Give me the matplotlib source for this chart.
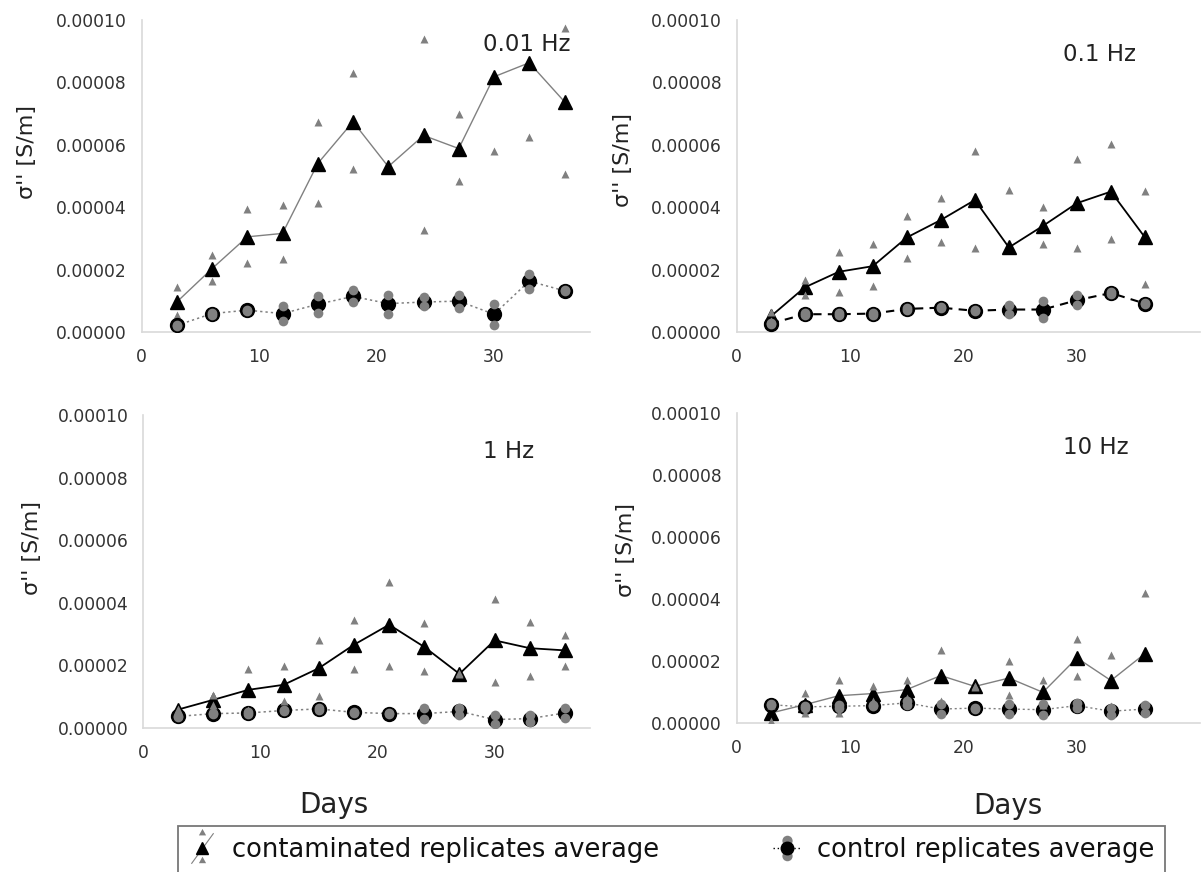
import numpy as np
import matplotlib
matplotlib.use("Agg")
import matplotlib.pyplot as plt
from matplotlib.lines import Line2D
from matplotlib.path import Path
from matplotlib.legend_handler import HandlerTuple

# sampling days
days = [3, 6, 9, 12, 15, 18, 21, 24, 27, 30, 33, 36]

# sigma'' in units of 1e-5 S/m -- contaminated columns (average + two replicates)
cont_avg_001 = [0.96, 2.03, 3.05, 3.16, 5.40, 6.74, 5.30, 6.30, 5.88, 8.18, 8.63, 7.38]
cont_r1_001 = [1.44, 2.46, 3.93, 4.06, 6.74, 8.31, 5.30, 9.38, 7.00, 10.55, 11.00, 9.73]
cont_r2_001 = [0.53, 1.63, 2.21, 2.35, 4.14, 5.21, 5.30, 3.26, 4.84, 5.81, 6.26, 5.06]

cont_avg_01 = [0.50, 1.43, 1.93, 2.11, 3.03, 3.59, 4.23, 2.71, 3.40, 4.13, 4.50, 3.03]
cont_r1_01 = [0.64, 1.66, 2.57, 2.81, 3.72, 4.29, 5.79, 4.56, 4.00, 5.55, 6.03, 4.52]
cont_r2_01 = [0.36, 1.20, 1.29, 1.47, 2.36, 2.87, 2.68, 0.86, 2.81, 2.68, 2.97, 1.55]

cont_avg_1 = [0.59, 0.90, 1.22, 1.38, 1.91, 2.66, 3.30, 2.59, 1.73, 2.80, 2.55, 2.48]
cont_r1_1 = [0.62, 1.06, 1.88, 1.99, 2.80, 3.46, 4.65, 3.37, 1.75, 4.13, 3.40, 2.98]
cont_r2_1 = [0.56, 0.74, 0.56, 0.85, 1.01, 1.88, 1.97, 1.81, 1.71, 1.46, 1.67, 1.99]

cont_avg_10 = [0.32, 0.59, 0.88, 0.95, 1.08, 1.53, 1.18, 1.45, 0.99, 2.10, 1.37, 2.24]
cont_r1_10 = [0.59, 0.97, 1.40, 1.20, 1.40, 2.34, 1.20, 1.99, 1.40, 2.71, 2.20, 4.19]
cont_r2_10 = [0.05, 0.32, 0.32, 0.70, 0.80, 0.70, 1.16, 0.91, 0.58, 1.51, 0.54, 0.38]

# control columns
ctrl_avg_001 = [0.21, 0.59, 0.70, 0.59, 0.89, 1.14, 0.91, 0.96, 0.99, 0.57, 1.63, 1.32]
ctrl_r1_001 = [0.23, 0.62, 0.72, 0.82, 1.14, 1.34, 1.20, 1.12, 1.18, 0.89, 1.87, 1.34]
ctrl_r2_001 = [0.19, 0.56, 0.68, 0.35, 0.62, 0.96, 0.59, 0.82, 0.78, 0.21, 1.39, 1.30]

ctrl_avg_01 = [0.27, 0.57, 0.57, 0.59, 0.74, 0.78, 0.68, 0.72, 0.72, 1.02, 1.25, 0.91]
ctrl_r1_01 = [0.29, 0.60, 0.60, 0.62, 0.76, 0.80, 0.70, 0.86, 0.99, 1.18, 1.27, 0.93]
ctrl_r2_01 = [0.25, 0.54, 0.54, 0.56, 0.72, 0.76, 0.66, 0.58, 0.45, 0.86, 1.23, 0.89]

ctrl_avg_1 = [0.37, 0.46, 0.48, 0.56, 0.61, 0.50, 0.46, 0.46, 0.53, 0.27, 0.30, 0.48]
ctrl_r1_1 = [0.39, 0.48, 0.50, 0.58, 0.63, 0.52, 0.48, 0.64, 0.64, 0.40, 0.42, 0.64]
ctrl_r2_1 = [0.35, 0.44, 0.46, 0.54, 0.59, 0.48, 0.44, 0.28, 0.42, 0.14, 0.18, 0.32]

ctrl_avg_10 = [0.59, 0.52, 0.54, 0.56, 0.65, 0.45, 0.48, 0.45, 0.43, 0.56, 0.38, 0.45]
ctrl_r1_10 = [0.61, 0.56, 0.58, 0.58, 0.72, 0.60, 0.50, 0.62, 0.60, 0.64, 0.50, 0.58]
ctrl_r2_10 = [0.57, 0.48, 0.50, 0.54, 0.58, 0.30, 0.46, 0.28, 0.26, 0.48, 0.26, 0.32]

freq_labels = ["0.01 Hz", "0.1 Hz", "1 Hz", "10 Hz"]
y_ticks = [0.0, 2e-5, 4e-5, 6e-5, 8e-5, 1e-4]
x_ticks = [0, 10, 20, 30]

scale = 1e-5
GREY = "#808080"

fig = plt.figure(figsize=(12.03, 8.72), dpi=100)
W, H = 1203.0, 872.0


def pix_axes(left, top, right, bottom):
    return fig.add_axes([left / W, 1 - bottom / H, (right - left) / W, (bottom - top) / H])


dotted = (0, (1.5, 2))
panels = [
    dict(ax=pix_axes(141.5, 20, 590, 332), xmax=38.17,
         cont=(cont_avg_001, cont_r1_001, cont_r2_001),
         ctrl=(ctrl_avg_001, ctrl_r1_001, ctrl_r2_001),
         cline=(GREY, 1.0, "-"), kline=(GREY, 1.1, dotted), rep_z=2.5,
         title=freq_labels[0], tpos=(0.86, 0.92), ylab=(-0.233, 0.577)),
    dict(ax=pix_axes(736.7, 20, 1200, 332), xmax=40.85,
         cont=(cont_avg_01, cont_r1_01, cont_r2_01),
         ctrl=(ctrl_avg_01, ctrl_r1_01, ctrl_r2_01),
         cline=("black", 1.3, "-"), kline=("black", 1.5, (0, (4, 3))), rep_z=6,
         title=freq_labels[1], tpos=(0.782, 0.888), ylab=(-0.224, 0.551)),
    dict(ax=pix_axes(143, 415, 590, 728), xmax=38.14,
         cont=(cont_avg_1, cont_r1_1, cont_r2_1),
         ctrl=(ctrl_avg_1, ctrl_r1_1, ctrl_r2_1),
         cline=("black", 1.3, "-"), kline=(GREY, 1.1, dotted), rep_z=6,
         title=freq_labels[2], tpos=(0.817, 0.882), ylab=(-0.226, 0.575)),
    dict(ax=pix_axes(736.7, 413, 1200, 723), xmax=40.85,
         cont=(cont_avg_10, cont_r1_10, cont_r2_10),
         ctrl=(ctrl_avg_10, ctrl_r1_10, ctrl_r2_10),
         cline=(GREY, 1.0, "-"), kline=(GREY, 1.0, dotted), rep_z=6,
         title=freq_labels[3], tpos=(0.776, 0.89), ylab=(-0.217, 0.558)),
]

for p in panels:
    ax = p["ax"]
    c_avg, c_r1, c_r2 = [np.array(v) * scale for v in p["cont"]]
    k_avg, k_r1, k_r2 = [np.array(v) * scale for v in p["ctrl"]]

    # contaminated average line + markers
    col, lw, ls = p["cline"]
    ax.plot(days, c_avg, color=col, lw=lw, ls=ls, zorder=2)
    ax.plot(days, c_avg, ls="none", marker="^", ms=10, color="black", zorder=3)
    # control average line + markers
    col, lw, ls = p["kline"]
    ax.plot(days, k_avg, color=col, lw=lw, ls=ls, zorder=4)
    ax.plot(days, k_avg, ls="none", marker="o", ms=10, color="black", zorder=5)
    # replicates
    for r in (c_r1, c_r2):
        ax.plot(days, r, ls="none", marker="^", ms=6, color=GREY, mec="none", zorder=p["rep_z"])
    for r in (k_r1, k_r2):
        ax.plot(days, r, ls="none", marker="o", ms=7, color=GREY, mec="none", zorder=7)

    ax.set_xlim(0, p["xmax"])
    ax.set_ylim(0, 1e-4)
    ax.set_xticks(x_ticks)
    ax.set_yticks(y_ticks)
    ax.set_yticklabels([f"{v:.5f}" for v in y_ticks])
    ax.tick_params(length=0, labelsize=12.3, labelcolor="#333333")
    ax.tick_params(axis="y", pad=10.5)
    ax.tick_params(axis="x", pad=11.5)
    for s in ("top", "right"):
        ax.spines[s].set_visible(False)
    for s in ("left", "bottom"):
        ax.spines[s].set_color("#d9d9d9")
        ax.spines[s].set_linewidth(1.2)

    ax.set_ylabel("σ'' [S/m]", fontsize=16, color="#222222")
    ax.yaxis.set_label_coords(*p["ylab"])
    ax.text(p["tpos"][0], p["tpos"][1], p["title"], transform=ax.transAxes,
            ha="center", va="center", fontsize=16.5, color="#222222")

fig.text(334 / W, 1 - 805 / H, "Days", ha="center", va="center", fontsize=20, color="#222222")
fig.text(1008 / W, 1 - 806 / H, "Days", ha="center", va="center", fontsize=20, color="#222222")


# legend glyphs: averages with their replicates above and below
def tri(cx, cy, s):
    return Path([(cx, cy + s), (cx - s, cy - 0.8 * s), (cx + s, cy - 0.8 * s), (cx, cy + s)], closed=True)


tri_pair = Path.make_compound_path(tri(0, 11.5, 2.6), tri(0, -8.5, 2.6))
circ_pair = Path.make_compound_path(Path.circle((0, 5.5), 3.7), Path.circle((0, -5.5), 3.7))
slash = Path([(-8, -11), (8, 11)])


def msize(path):
    return 2 * np.abs(path.vertices).max()


h_cont = (
    Line2D([], [], ls="none", marker=slash, ms=msize(slash), mfc="none", mec=GREY, mew=0.8),
    Line2D([], [], ls="none", marker="^", ms=9, color="black"),
    Line2D([], [], ls="none", marker=tri_pair, ms=msize(tri_pair), mfc=GREY, mec="none"),
)
h_ctrl = (
    Line2D([], [], color="black", lw=1.0, ls=(0, (1, 2))),
    Line2D([], [], ls="none", marker=circ_pair, ms=msize(circ_pair), mfc=GREY, mec="none"),
    Line2D([], [], ls="none", marker="o", ms=9, color="black"),
)

leg = fig.legend([h_cont, h_ctrl],
                 ["contaminated replicates average", "control replicates average"],
                 handler_map={tuple: HandlerTuple(ndivide=1, pad=0)},
                 loc="upper left", bbox_to_anchor=(178 / W, 0, 987 / W, 1 - 826 / H),
                 mode="expand", ncol=2, fontsize=18.5, frameon=True, fancybox=False,
                 borderpad=0.41, handlelength=1.02, handletextpad=0.68, borderaxespad=0)
leg.get_frame().set_edgecolor("#555555")
leg.get_frame().set_linewidth(1.3)
for t in leg.get_texts():
    t.set_color("#111111")

fig.savefig("out.png", dpi=100)
